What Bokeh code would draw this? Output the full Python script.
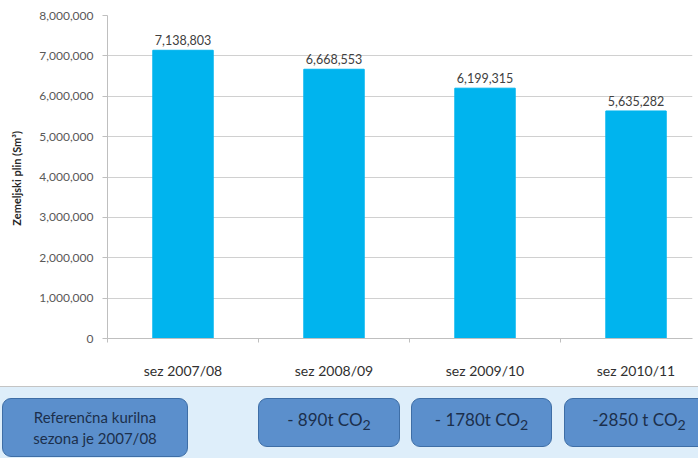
from bokeh.plotting import figure
from bokeh.models import Range1d, FixedTicker, NumeralTickFormatter, ColumnDataSource, Div
from bokeh.layouts import column
from bokeh.core.properties import value
from bokeh.embed import file_html
from bokeh.resources import INLINE

# ---- data ----
seasons = ["sez 2007/08", "sez 2008/09", "sez 2009/10", "sez 2010/11"]
gas_sm3 = [7138803, 6668553, 6199315, 5635282]
y_ticks = [0, 1000000, 2000000, 3000000, 4000000, 5000000, 6000000, 7000000, 8000000]
box_texts = ["Referenčna kurilna<br>sezona je 2007/08", "- 890t CO<sub>2</sub>",
             "- 1780t CO<sub>2</sub>", "-2850 t CO<sub>2</sub>"]

FONT = "Lato"
BAR = "#00b4ee"
GRID = "#d0d0d0"
AXIS = "#bfbfbf"
TICKTXT = "#595959"

n = len(seasons)
xs = [i + 0.5 for i in range(n)]
src = ColumnDataSource(dict(x=xs, top=gas_sm3, lbl=[f"{v:,}" for v in gas_sm3]))

p = figure(width=698, height=386, output_backend="svg", toolbar_location=None,
           x_range=Range1d(0, 3.874), y_range=Range1d(0, 8000000),
           min_border_left=107, min_border_right=6, min_border_top=15, min_border_bottom=48)
p.outline_line_color = None
p.background_fill_color = "white"
p.border_fill_color = "white"

p.vbar(x="x", top="top", width=0.4, bottom=0, source=src, fill_color=BAR, line_color=BAR)
p.text(x="x", y="top", text="lbl", source=src, text_align="center", text_baseline="bottom",
       y_offset=-5, text_font=value(FONT), text_font_size="12.5px", text_color="#404040")

# y axis
p.yaxis.ticker = FixedTicker(ticks=y_ticks)
p.yaxis.formatter = NumeralTickFormatter(format="0,0")
p.yaxis.major_label_text_font = FONT
p.yaxis.major_label_text_font_size = "12px"
p.yaxis.major_label_text_color = TICKTXT
p.yaxis.axis_line_color = AXIS
p.yaxis.major_tick_line_color = AXIS
p.yaxis.major_tick_out = 5
p.yaxis.major_tick_in = 0
p.yaxis.minor_tick_line_color = None
p.yaxis.major_label_standoff = 9
p.yaxis.axis_label = "Zemeljski plin  (Sm³)"
p.yaxis.axis_label_text_font = FONT
p.yaxis.axis_label_text_font_size = "11px"
p.yaxis.axis_label_text_font_style = "bold"
p.yaxis.axis_label_text_color = "#262626"
p.yaxis.axis_label_standoff = 13
p.ygrid.grid_line_color = GRID
p.ygrid.ticker = FixedTicker(ticks=y_ticks)

# x axis
p.xaxis.ticker = FixedTicker(ticks=xs, minor_ticks=list(range(n + 1)))
p.xaxis.major_label_overrides = {x: s for x, s in zip(xs, seasons)}
p.xaxis.major_label_text_font = FONT
p.xaxis.major_label_text_font_size = "14px"
p.xaxis.major_label_text_color = "#303030"
p.xaxis.major_label_standoff = 19
p.xaxis.major_tick_line_color = None
p.xaxis.major_tick_out = 0
p.xaxis.major_tick_in = 0
p.xaxis.minor_tick_line_color = AXIS
p.xaxis.minor_tick_out = 4
p.xaxis.minor_tick_in = 0
p.xaxis.axis_line_color = AXIS
p.xgrid.grid_line_color = None

# ---- bottom band with boxes (HTML) ----
box_left = [2, 258, 411, 564]
box_width = [186, 142, 141, 150]
box_top = [11, 11, 11, 11]
box_height = [59, 49, 49, 49]
box_font = [15, 17, 17, 17]

boxes = ""
for i in range(len(box_texts)):
    boxes += (
        f'<div style="position:absolute;left:{box_left[i]}px;top:{box_top[i]}px;'
        f'width:{box_width[i]}px;height:{box_height[i]}px;box-sizing:border-box;'
        f'background:#5b8fcc;border:1.3px solid #3e6ea6;border-radius:9px;'
        f'display:flex;align-items:center;justify-content:center;text-align:center;'
        f'font-family:Lato;font-size:{box_font[i]}px;line-height:21px;color:#1b2f4c;">'
        f'<span>{box_texts[i]}</span></div>'
    )
html = (
    '<div style="position:relative;width:698px;height:72px;overflow:hidden;'
    'background:#deeefa;border-top:1.5px solid #c4c4c4;box-sizing:border-box;">'
    + boxes + '</div>'
)
band = Div(text=html, width=698, height=72, margin=0)

layout = column(p, band, spacing=0)
open("out.html", "w").write(file_html(layout, INLINE))
